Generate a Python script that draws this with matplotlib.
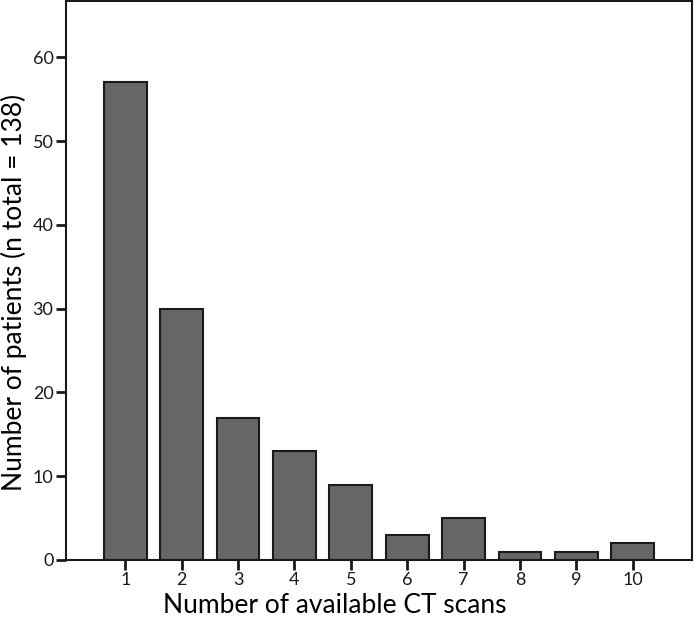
import matplotlib.pyplot as plt

scans = [1, 2, 3, 4, 5, 6, 7, 8, 9, 10]
patients = [57, 30, 17, 13, 9, 3, 5, 1, 1, 2]
yticks = [0, 10, 20, 30, 40, 50, 60]

plt.rcParams['font.family'] = ['Lato', 'DejaVu Sans']

fig = plt.figure(figsize=(6.94, 6.17), dpi=100)
ax = fig.add_axes([0.0951, 0.0924, 0.9019, 0.9056])

ax.bar(scans, patients, width=0.76, color='#666666', edgecolor='#1a1a1a', linewidth=1.5)

ax.set_xlim(-0.05, 11.05)
ax.set_ylim(0, 66.7)
ax.set_xticks(scans)
ax.set_yticks(yticks)
ax.tick_params(axis='both', direction='out', length=7, width=2, labelsize=13,
               colors='#1a1a1a', pad=2)
for s in ax.spines.values():
    s.set_linewidth(1.5)
    s.set_color('#1a1a1a')

ax.set_xlabel('Number of available CT scans', fontsize=19)
ax.set_ylabel('Number of patients (n total = 138)', fontsize=19)
ax.xaxis.set_label_coords(0.43, -0.059)
ax.yaxis.set_label_coords(-0.063, 0.479)

fig.savefig('out.png', dpi=100)
